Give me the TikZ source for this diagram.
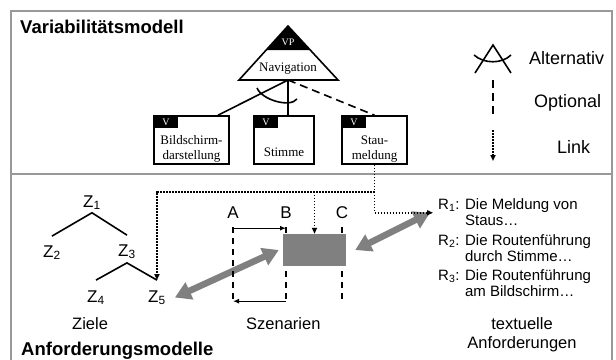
\documentclass[tikz,border=0pt]{standalone}
\usepackage{fontspec}
\setmainfont{Liberation Serif}
\setsansfont{Liberation Sans}
\usepackage{tikz}
\usetikzlibrary{
    arrows.meta,
    positioning,
    calc
}
\newcommand{\pxfont}[2]{\fontsize{#1}{#2}\selectfont}
\tikzset{
    frame/.style={
        draw=gray!80,
        line width=2pt
    }
}
\tikzset{
    heading/.style={
        font=\sffamily\bfseries\pxfont{18.5}{20},
        inner sep=0pt,
        anchor=base west
    }
}
\tikzset{
    legendtext/.style={
        font=\sffamily\pxfont{18}{20},
        inner sep=0pt,
        anchor=base west
    }
}
\tikzset{
    feature/.style={
        draw,
        line width=1.6pt,
        minimum height=48pt,
        inner sep=0pt
    }
}
\tikzset{
    featuretext/.style={
        font=\rmfamily\pxfont{13}{15},
        align=center,
        inner sep=0pt
    }
}
\tikzset{
    vtag/.style={
        fill=black,
        text=white,
        font=\rmfamily\pxfont{10}{12},
        minimum width=25pt,
        minimum height=13pt,
        inner sep=0pt,
        anchor=north west
    }
}
\tikzset{
    treeline/.style={
        line width=1.6pt
    }
}
\tikzset{
    optional/.style={
        line width=1.6pt,
        dash pattern=on 8pt off 5pt
    }
}
\tikzset{
    link/.style={
        line width=1.6pt,
        dash pattern=on 1.6pt off 1.4pt,
        -{Triangle[length=6pt,width=5pt]}
    }
}
\tikzset{
    goal/.style={
        font=\sffamily\pxfont{17}{20},
        inner sep=0pt,
        anchor=base west
    }
}
\tikzset{
    caption/.style={
        font=\sffamily\pxfont{16.5}{19},
        inner sep=0pt
    }
}
\tikzset{
    timeline/.style={
        line width=1.4pt,
        dash pattern=on 6pt off 5pt
    }
}
\tikzset{
    timearrow/.style={
        line width=1.4pt,
        -{Latex[length=6pt,width=5pt]}
    }
}
\tikzset{
    bigarrow/.style={
        draw=gray,
        line width=6.5pt,
        {Triangle[length=16pt,width=18pt]}-{Triangle[length=16pt,width=18pt]}
    }
}
\tikzset{
    requirement/.style={
        font=\sffamily\pxfont{15}{16},
        align=left,
        inner sep=0pt,
        anchor=north west
    }
}

\begin{document}
\begin{tikzpicture}[
    x=1pt,
    y=-1pt,
    >=Latex,
    font=\sffamily
]
\useasboundingbox (0,0) rectangle (616,359);
\fill[white] (0,0) rectangle (616,359);

% frame
\draw[frame] (11,11) rectangle (612,366);
\draw[frame] (11,174) -- (612,174);

\node[heading] (varmodel) at (20,33) {Variabilitätsmodell};
\node[heading] (reqmodel) at (21,355) {Anforderungsmodelle};

% variation point
\fill (288,26) -- (266.7,50) -- (309.7,50) -- cycle;
\draw[line width=1.6pt] (288,26) -- (239,80) -- (338,80) -- cycle;
\node[text=white, font=\rmfamily\pxfont{10}{12}] (vp) at (288,42) {VP};
\node[font=\rmfamily\pxfont{13}{15}, anchor=base] (nav) at (288,71) {Navigation};
\coordinate (navbase) at (288,80);

% variants
\node[feature, minimum width=75pt] (bild) at (191.5,140) {};
\node[feature, minimum width=60pt] (stim) at (284,140) {};
\node[feature, minimum width=65pt] (stau) at (374.5,140) {};

\node[vtag] (bildtag) at (bild.north west) {V};
\node[vtag] (stimtag) at (stim.north west) {V};
\node[vtag] (stautag) at (stau.north west) {V};

\node[featuretext, anchor=north] (bildtxt) at ([yshift=-20pt]bild.north)
    {Bildschirm-\\darstellung};
\node[featuretext, anchor=base] (stimtxt) at ([yshift=-41pt]stim.north)
    {Stimme};
\node[featuretext, anchor=north] (stautxt) at ([yshift=-20pt]stau.north)
    {Stau-\\meldung};

\draw[treeline] (navbase) -- ([xshift=26.5pt]bild.north);
\draw[treeline] (navbase) -- ([xshift=4pt]stim.north);
\draw[optional] (navbase) -- (stau.north);
\draw[treeline] (257,88) .. controls (262,100) and (290,108) .. (297,99);

% legend
\draw[treeline] (475,73) -- (493,45) -- (511,73);
\draw[treeline] (474,55) .. controls (484,64) and (502,64) .. (511,55);
\draw[optional] (493,80) -- (493,116);
\draw[link] (493,130) -- (493,161);
\node[legendtext] (alt) at (529,64) {Alternativ};
\node[legendtext] (opt) at (534,107) {Optional};
\node[legendtext] (lnk) at (557,153) {Link};

% goals
\node[goal] (z1) at (83,207) {Z\textsubscript{1}};
\node[goal] (z2) at (43,257) {Z\textsubscript{2}};
\node[goal] (z3) at (118,256) {Z\textsubscript{3}};
\node[goal] (z4) at (87,302) {Z\textsubscript{4}};
\node[goal] (z5) at (148,302) {Z\textsubscript{5}};

\draw[treeline] ([yshift=9pt]z2.north) -- ([yshift=-3pt]z1.south) -- ([yshift=9pt]z3.north);
\draw[treeline] ([yshift=10pt]z4.north) -- ([yshift=-4pt]z3.south) -- ([yshift=10pt]z5.north);

\node[caption, anchor=base west] (ziele) at (72,329) {Ziele};
\node[caption, anchor=base west] (szenarien) at (246,329) {Szenarien};

% scenarios
\node[minimum width=63pt, minimum height=32pt, inner sep=0pt] (szen) at (314.5,250) {};
\node[goal, anchor=base] (sa) at (233,218) {A};
\node[goal, anchor=base] (sb) at (286,218) {B};
\node[goal, anchor=base] (sc) at (342,218) {C};

\draw[bigarrow] ([xshift=9pt]z5.east) -- ([xshift=-4pt]szen.west);

\draw[timeline] ([yshift=-9pt]sa.south) -- ++(0,76);
\draw[timeline] ([yshift=-9pt]sb.south) -- ++(0,76);
\draw[timeline] ([yshift=-9pt]sc.south) -- ++(0,76);
\draw[timearrow] ([yshift=-10pt]sa.south) -- ([yshift=-10pt]sb.south);
\draw[timearrow] ([yshift=-83pt]sb.south) -- ([yshift=-83pt]sa.south);

\fill[gray] (szen.south west) rectangle (szen.north east);

% requirements
\node[requirement] (r1) at (438,198)
    {R\textsubscript{1}: Die Meldung von\\\phantom{R\textsubscript{1}: }Staus…};
\node[requirement] (r2) at (438,234)
    {R\textsubscript{2}: Die Routenführung\\\phantom{R\textsubscript{2}: }durch Stimme…};
\node[requirement] (r3) at (438,269)
    {R\textsubscript{3}: Die Routenführung\\\phantom{R\textsubscript{3}: }am Bildschirm…};
\node[caption, align=center, anchor=north] (textreq) at (522,317)
    {textuelle\\Anforderungen};

\draw[bigarrow] ([xshift=9pt]szen.east) -- ([xshift=-8pt]r1.west);

% links
\coordinate (fork) at ([yshift=-27pt]stau.south);
\draw[link] (stau.south) |- ([xshift=-5pt]r1.west);
\draw[link] (fork) -| ([yshift=10pt]z5.north);
\draw[link] (fork -| szen.north) -- (szen.north);

\end{tikzpicture}
\end{document}
